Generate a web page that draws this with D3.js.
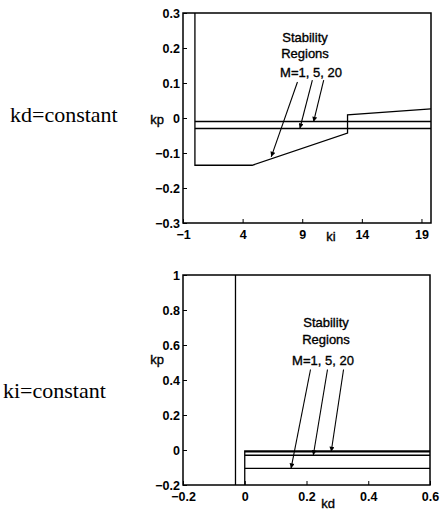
<!DOCTYPE html>
<html lang="en">
<head>
    <meta charset="UTF-8">
    <title>Stability Regions</title>
    <style>
        body { margin: 0; background: white; }
        svg { display: block; }
        .tick text { font: bold 12.5px "Liberation Sans", Arial, sans-serif; fill: black; }
    </style>
</head>
<body>
    <script src="https://cdn.jsdelivr.net/npm/d3@7"></script>
    <script>
        // top plot: kd = constant (x = ki, y = kp)
        const kiTicks = [-1, 4, 9, 14, 19];
        const kpTicksTop = [-0.3, -0.2, -0.1, 0, 0.1, 0.2, 0.3];
        // M=1 boundary
        const topBoundM1 = [[0, 0.3], [0, -0.135], [4.8, -0.135], [12.8, -0.043], [12.8, 0.009], [19.8, 0.026]];
        // M=5, M=20 boundaries
        const topLineM5 = [[0, -0.03], [19.8, -0.03]];
        const topLineM20 = [[0, -0.01], [19.8, -0.01]];
        const topArrows = [
            [[8.6, 0.103], [6.4, -0.111]],
            [[9.85, 0.108], [8.8, -0.03]],
            [[10.8, 0.108], [9.95, -0.011]]
        ];

        // bottom plot: ki = constant (x = kd, y = kp)
        const kdTicks = [-0.2, 0, 0.2, 0.4, 0.6];
        const kpTicksBottom = [-0.2, 0, 0.2, 0.4, 0.6, 0.8, 1];
        const botVertical = [[-0.03, 1], [-0.03, -0.2]];
        const botBoundM1 = [[0, -0.2], [0, -0.005], [0.6, -0.005]];
        const botLineM1 = [[0, -0.105], [0.6, -0.105]];
        const botLineM5 = [[0, -0.03], [0.6, -0.03]];
        const botLineM20 = [[0, -0.01], [0.6, -0.01]];
        const botArrows = [
            [[0.213, 0.46], [0.15, -0.105]],
            [[0.268, 0.46], [0.222, -0.03]],
            [[0.32, 0.46], [0.28, -0.01]]
        ];
    </script>
    <script>
        const W = 445, H = 512;
        const svg = d3.select("body").append("svg")
            .attr("width", W)
            .attr("height", H)
            .attr("viewBox", [0, 0, W, H]);

        svg.append("defs").append("marker")
            .attr("id", "head")
            .attr("viewBox", "0 0 10 10")
            .attr("refX", 10).attr("refY", 5)
            .attr("markerWidth", 7).attr("markerHeight", 5)
            .attr("markerUnits", "userSpaceOnUse")
            .attr("orient", "auto")
            .append("path")
            .attr("d", "M0,0L10,5L0,10Z")
            .attr("fill", "black");

        const sansFont = '"Liberation Sans", Arial, sans-serif';
        const serifFont = '"Liberation Serif", "Times New Roman", serif';

        function drawPanel(opts) {
            const x = d3.scaleLinear().domain(opts.xDomain).range(opts.xRange);
            const y = d3.scaleLinear().domain(opts.yDomain).range(opts.yRange);
            const g = svg.append("g");
            const line = d3.line().x(d => x(d[0])).y(d => y(d[1]));

            // axes with inward ticks
            g.append("g")
                .attr("transform", `translate(0,${opts.yRange[0]})`)
                .call(d3.axisBottom(x).tickValues(opts.xTicks).tickFormat(opts.xFmt)
                    .tickSizeInner(-4).tickSizeOuter(0).tickPadding(7))
                .call(a => a.select(".domain").remove());
            g.append("g")
                .attr("transform", `translate(${opts.xRange[0]},0)`)
                .call(d3.axisLeft(y).tickValues(opts.yTicks).tickFormat(opts.yFmt)
                    .tickSizeInner(-4).tickSizeOuter(0).tickPadding(3))
                .call(a => a.select(".domain").remove());

            // frame
            g.append("rect")
                .attr("x", opts.xRange[0])
                .attr("y", opts.yRange[1])
                .attr("width", opts.xRange[1] - opts.xRange[0])
                .attr("height", opts.yRange[0] - opts.yRange[1])
                .attr("fill", "none")
                .attr("stroke", "black")
                .attr("stroke-width", 1.5);

            g.append("g")
                .attr("fill", "none")
                .attr("stroke", "black")
                .attr("stroke-width", 1.3)
                .selectAll("path")
                .data(opts.lines)
                .join("path")
                .attr("d", line);

            g.append("g")
                .attr("stroke", "black")
                .attr("stroke-width", 1.1)
                .selectAll("line")
                .data(opts.arrows)
                .join("line")
                .attr("x1", d => x(d[0][0]))
                .attr("y1", d => y(d[0][1]))
                .attr("x2", d => x(d[1][0]))
                .attr("y2", d => y(d[1][1]))
                .attr("marker-end", "url(#head)");

            const t = g.append("g")
                .attr("font-family", sansFont)
                .attr("font-size", 13)
                .attr("stroke", "black")
                .attr("stroke-width", 0.35)
                .attr("text-anchor", "middle");
            opts.notes.forEach(n => t.append("text")
                .attr("x", n[0]).attr("y", n[1]).text(n[2]));
        }

        drawPanel({
            xDomain: [-1, 19.8], xRange: [183, 431],
            yDomain: [-0.3, 0.3], yRange: [223, 13],
            xTicks: kiTicks, yTicks: kpTicksTop,
            xFmt: d3.format("d"), yFmt: d => d === 0 ? "0" : d3.format(".1f")(d),
            lines: [topBoundM1, topLineM5, topLineM20],
            arrows: topArrows,
            notes: [[305, 42, "Stability"], [305, 58, "Regions"], [311, 77, "M=1, 5, 20"],
                    [157, 124, "kp"], [331, 241, "ki"]]
        });

        drawPanel({
            xDomain: [-0.2, 0.6], xRange: [183, 430],
            yDomain: [-0.2, 1], yRange: [485, 275],
            xTicks: kdTicks, yTicks: kpTicksBottom,
            xFmt: d => d === 0 ? "0" : d3.format(".1f")(d),
            yFmt: d => (d === 0 || d === 1) ? d3.format("d")(d) : d3.format(".1f")(d),
            lines: [botVertical, botBoundM1, botLineM1, botLineM5, botLineM20],
            arrows: botArrows,
            notes: [[326, 327, "Stability"], [326, 344, "Regions"], [323, 365, "M=1, 5, 20"],
                    [157, 364, "kp"], [328, 508, "kd"]]
        });

        svg.append("text")
            .attr("x", 10).attr("y", 122)
            .attr("font-family", serifFont)
            .attr("font-size", 22)
            .text("kd=constant");
        svg.append("text")
            .attr("x", 3).attr("y", 398)
            .attr("font-family", serifFont)
            .attr("font-size", 22)
            .text("ki=constant");
    </script>
</body>
</html>
